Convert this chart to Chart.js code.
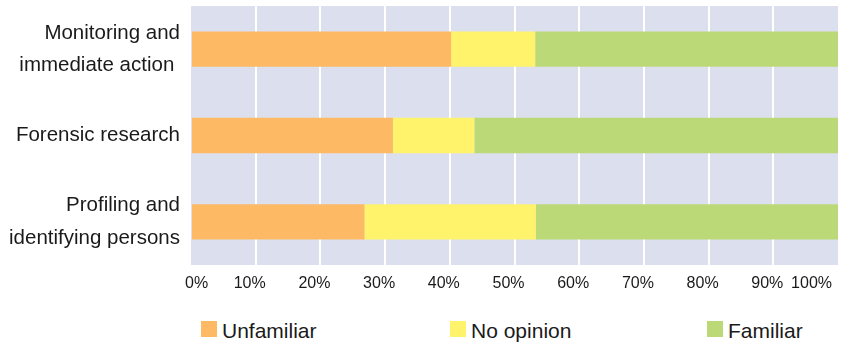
<!DOCTYPE html>
<html>
<head>
<meta charset="utf-8">
<script src="https://cdn.jsdelivr.net/npm/chart.js@4/dist/chart.umd.min.js"></script>
<style>
  html, body { margin: 0; padding: 0; background: #ffffff; }
  #wrap { position: relative; width: 841px; height: 349px; overflow: hidden; }
  #c { position: absolute; left: 0; top: 0; }
  #legend { position: absolute; left: 201px; top: 321px; display: flex; font-family: "Liberation Sans", Arial, sans-serif; font-size: 21px; color: #1a1a1a; }
  .item { display: flex; align-items: center; height: 16px; }
  .item .sw { width: 16px; height: 16px; margin-right: 5px; flex: none; }
  .item span.t { line-height: 16px; position: relative; top: 2px; }
  .w1 { width: 249px; } .w2 { width: 257px; } .w3 { width: 120px; }
</style>
</head>
<body>
<div id="wrap">
  <canvas id="c" width="841" height="300"></canvas>
  <div id="legend"></div>
</div>
<script>
const categories = [["Monitoring and", "immediate action "], "Forensic research", ["Profiling and", "identifying persons"]];
const seriesNames = ["Unfamiliar", "No opinion", "Familiar"];
const unfamiliar = [40.2, 31.2, 26.8];
const noOpinion = [13.0, 12.6, 26.5];
const familiar = [46.8, 56.2, 46.7];
const tickValues = [0, 10, 20, 30, 40, 50, 60, 70, 80, 90, 100];
const colors = ["#FDB964", "#FFF36B", "#BCD977"];

const FONT = '"Liberation Sans", Arial, sans-serif';
const TEXT = '#1a1a1a';

const plotBg = {
  id: 'plotBg',
  beforeDraw(chart) {
    const {ctx, chartArea: a} = chart;
    ctx.save();
    ctx.fillStyle = '#DCDFEE';
    ctx.fillRect(a.left, a.top, a.right - a.left, a.bottom - a.top);
    ctx.restore();
  }
};

const chart = new Chart(document.getElementById('c'), {
  type: 'bar',
  data: {
    labels: categories,
    datasets: [
      { label: seriesNames[0], data: unfamiliar, backgroundColor: colors[0] },
      { label: seriesNames[1], data: noOpinion, backgroundColor: colors[1] },
      { label: seriesNames[2], data: familiar, backgroundColor: colors[2] }
    ]
  },
  options: {
    indexAxis: 'y',
    responsive: false,
    animation: false,
    layout: { padding: { left: 0, right: 3, top: 6, bottom: 0 } },
    datasets: { bar: { barPercentage: 0.41, categoryPercentage: 1.0, borderWidth: 0 } },
    plugins: { legend: { display: false }, tooltip: { enabled: false } },
    scales: {
      x: {
        stacked: true,
        min: 0, max: 100,
        afterBuildTicks(scale) { scale.ticks = tickValues.map(v => ({ value: v })); },
        afterFit(scale) { scale.height = 35; scale.paddingLeft = 0; scale.paddingRight = 0; },
        border: { display: false },
        grid: {
          drawTicks: false,
          lineWidth: 2,
          color: ctx => (ctx.tick && (ctx.tick.value === 0 || ctx.tick.value === 100)) ? 'rgba(0,0,0,0)' : '#ffffff'
        },
        ticks: {
          align: 'inner',
          labelOffset: -6,
          padding: 9,
          maxRotation: 0,
          autoSkip: false,
          color: TEXT,
          font: { family: FONT, size: 16 },
          callback: v => v + '%'
        }
      },
      y: {
        stacked: true,
        afterFit(scale) { scale.width = 191; scale.paddingTop = 0; scale.paddingBottom = 0; },
        border: { display: false },
        grid: { display: false, drawTicks: false },
        ticks: {
          padding: 11,
          color: TEXT,
          font: { family: FONT, size: 20.5, lineHeight: 1.58 }
        }
      }
    }
  },
  plugins: [plotBg]
});

// HTML legend built from dataset definitions
const legend = document.getElementById('legend');
chart.data.datasets.forEach((ds, i) => {
  const it = document.createElement('div');
  it.className = 'item w' + (i + 1);
  const sw = document.createElement('div');
  sw.className = 'sw';
  sw.style.background = ds.backgroundColor;
  const t = document.createElement('span');
  t.className = 't';
  t.textContent = ds.label;
  it.appendChild(sw); it.appendChild(t);
  legend.appendChild(it);
});
</script>
</body>
</html>
